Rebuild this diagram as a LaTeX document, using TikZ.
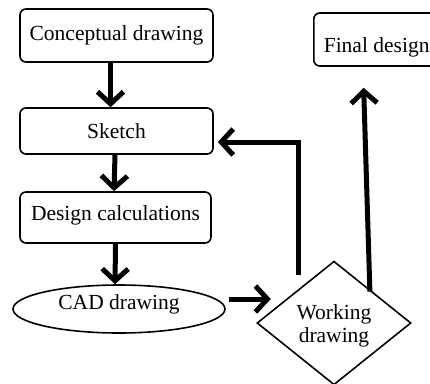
\documentclass[tikz,border=0pt]{standalone}
\usepackage{fontspec}
\setmainfont{Liberation Serif}
\usetikzlibrary{arrows.meta,shapes.geometric}

\begin{document}
\begin{tikzpicture}[x=1pt,y=-1pt,
		font=\fontsize{21.5}{23}\selectfont,
		stage/.style={draw, line width=1.6pt, rounded corners=6pt, inner sep=0pt},
		flow/.style={line width=5pt, -{Straight Barb[length=12pt,width=26pt]}}]
		\useasboundingbox (0,0) rectangle (430,383);
		% boxes
		\node[stage, minimum width=193pt, minimum height=53pt] (concept) at (116.5,35.5) {Conceptual drawing};
		\node[stage, minimum width=193pt, minimum height=46pt] (sketch) at (116.5,131) {Sketch};
		\node[stage, minimum width=191pt, minimum height=51pt, text height=10pt, text depth=5pt] (calc) at (115.5,217.5) {Design calculations};
		\node[draw, line width=1.6pt, ellipse, inner sep=0pt, minimum width=212pt, minimum height=48pt, text height=5pt, text depth=5pt] (cad) at (119,309) {CAD drawing};
		\node[draw, line width=1.6pt, diamond, inner sep=0pt, minimum width=154pt, minimum height=122pt, align=center, text height=44pt, text depth=5pt] (work) at (334,323) {Working\\drawing};
		\node[stage, anchor=west, minimum height=53pt, inner xsep=10pt, text height=25pt, text depth=0pt] (final) at (313,39.5) {Final design};
		% arrows
		\draw[flow] ([xshift=-6pt]concept.south) -- ([xshift=-6pt]sketch.north);
		\draw[flow] ([xshift=-1.5pt]sketch.south) -- ([xshift=-1.5pt]calc.north);
		\draw[flow] (calc.south) -- ([xshift=-4pt]cad.north);
		\draw[flow] ([xshift=3pt,yshift=10pt]cad.east) -- ++(42,0);
		\draw[flow] ([xshift=3pt,yshift=17pt]work.north west) |- ([xshift=4pt,yshift=-11pt]sketch.east);
		\draw[flow] ([xshift=-3pt]work.north east) -- ([xshift=-13pt,yshift=-21pt]final.south);
	\end{tikzpicture}
\end{document}
